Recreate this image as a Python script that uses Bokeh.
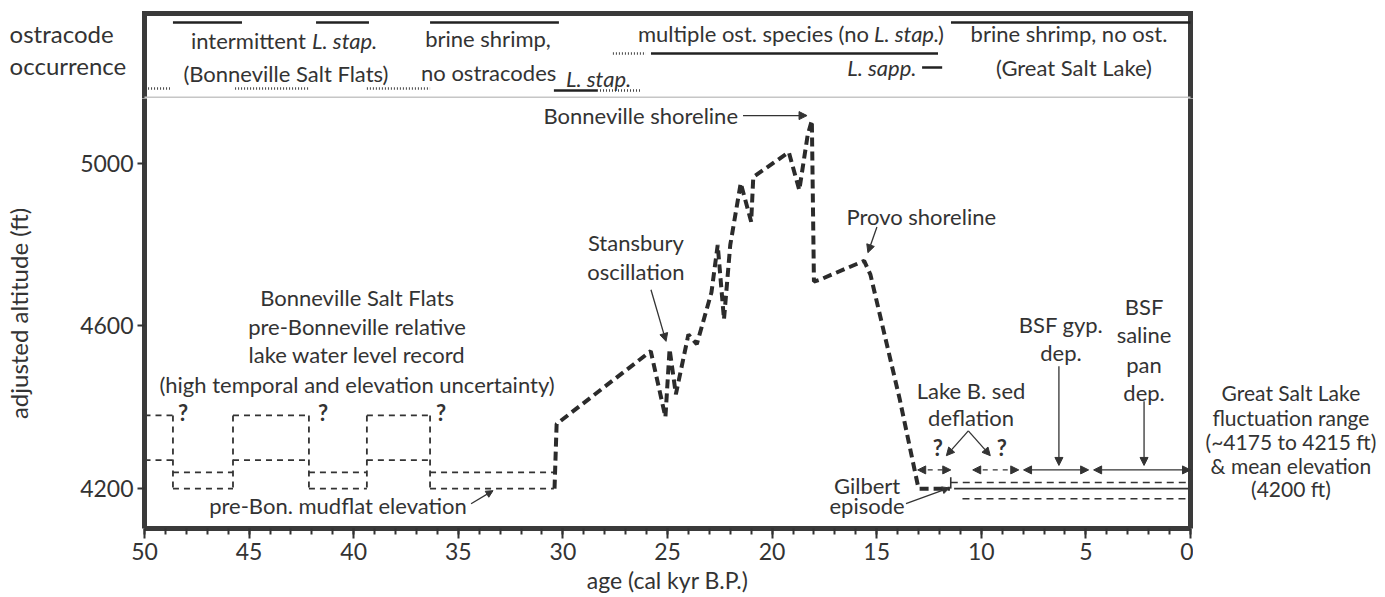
from bokeh.plotting import figure
from bokeh.models import (Range1d, LinearAxis, FixedTicker, SingleIntervalTicker,
                          Label, Arrow, NormalHead, ColumnDataSource)
from bokeh.layouts import column, row
from bokeh.embed import file_html
from bokeh.resources import INLINE

FONT = "Lato"
INK = "#333333"
FRAME = "#3a3a3a"

# ---------------- data ----------------
# Lake Bonneville hydrograph (age in cal kyr B.P., adjusted altitude in ft)
lake_age = [30.4, 30.3, 25.8, 25.1, 24.9, 24.6, 24.0, 23.6, 22.9, 22.6, 22.3, 22.0,
            21.5, 21.0, 20.9, 19.2, 18.7, 18.3, 18.1, 18.0, 17.7, 15.6, 15.3, 13.9,
            13.0, 11.5]
lake_alt = [4200, 4359, 4538, 4376, 4543, 4432, 4579, 4555, 4682, 4799, 4616, 4799,
            4951, 4856, 4966, 5027, 4934, 5069, 5105, 4709, 4714, 4760, 4726, 4420,
            4200, 4200]

# pre-Bonneville relative lake level record (Bonneville Salt Flats)
bsf_high_start = [50.0, 45.77, 39.37]
bsf_high_end = [48.64, 42.14, 36.35]
bsf_low_start = [48.64, 42.14, 36.35]
bsf_low_end = [45.77, 39.37, 30.43]
bsf_high_upper = 4380
bsf_high_lower = 4270
mudflat_upper = 4240
mudflat_lower = 4200

# Gilbert episode and Great Salt Lake fluctuation range
gilbert_age = 11.46
gilbert_alt = [4200, 4228]
gsl_start = [11.46, 11.3, 10.9]
gsl_level = [4215, 4200, 4175]
gsl_kind = ["max", "mean", "min"]

# post-Bonneville intervals
dep_name = ["deflation a", "deflation b", "BSF gyp. dep.", "BSF saline pan dep."]
dep_start = [13.04, 10.41, 7.98, 4.63]
dep_end = [11.46, 8.21, 4.87, 0.0]
dep_certain = [False, False, True, True]

# ostracode occurrence
occ_group = ["intermittent L. stap.", "intermittent L. stap.", "brine shrimp, no ostracodes",
             "brine shrimp, no ost.", "BSF uncertain", "BSF uncertain", "BSF uncertain",
             "L. stap.", "L. stap.", "multiple ost. species", "multiple ost. species", "L. sapp."]
occ_start = [48.64, 41.80, 36.35, 11.45, 49.83, 45.67, 39.37, 30.43, 28.37, 27.61, 25.79, 12.83]
occ_end = [45.34, 39.27, 30.19, 0.0, 48.78, 42.14, 36.35, 28.37, 26.22, 26.03, 12.07, 11.87]
occ_certain = [True, True, True, True, False, False, False, True, False, False, True, True]

x_ticks_interval = 5
y_ticks = [4200, 4600, 5000]

# ---------------- layout constants ----------------
AGE_OLD, AGE_YOUNG = 50, 0
FW = 1046                      # frame width in px
PPU = FW / (AGE_OLD - AGE_YOUNG)
LEFT = 144
TOTAL_W = 1383
MAIN_W = LEFT + FW + 3
TOP_H = 98
MAIN_H = 498
Y0, Y1 = 4102, 5159            # main y range
MAIN_FRAME_H = 432
PPF = MAIN_FRAME_H / (Y1 - Y0)


def lab(fig, x, y, text, size=22, align="center", style="normal", color=INK):
    fig.add_layout(Label(x=x, y=y, text=text, text_font=FONT, text_font_size=f"{size}px",
                         text_align=align, text_baseline="middle", text_color=color,
                         text_font_style=style))


def arrow(fig, x0, y0, x1, y1, size=8, both=False, dash="solid", width=1.3):
    head = NormalHead(size=size, fill_color=INK, line_color=INK, line_width=1)
    start = NormalHead(size=size, fill_color=INK, line_color=INK, line_width=1) if both else None
    fig.add_layout(Arrow(x_start=x0, y_start=y0, x_end=x1, y_end=y1, end=head, start=start,
                         line_color=INK, line_width=width, line_dash=dash))


def bare(fig):
    fig.outline_line_color = None
    for g in fig.grid:
        g.visible = False


# ---- top panel: ostracode occurrence (frame spans full canvas) ----
pt = figure(width=TOTAL_W, height=TOP_H,
            x_range=Range1d(AGE_OLD + LEFT / PPU, AGE_YOUNG - (TOTAL_W - LEFT - FW) / PPU),
            y_range=Range1d(0, TOP_H),
            output_backend="svg", toolbar_location=None,
            x_axis_location=None, y_axis_location=None, min_border=0)
bare(pt)
# panel frame
pt.line([AGE_OLD, AGE_OLD, AGE_YOUNG, AGE_YOUNG], [0, 85, 85, 0], line_width=5,
        line_color=FRAME, line_join="miter")
pt.line([AGE_OLD, AGE_YOUNG], [1, 1], line_width=2, line_color="#c6c6c6")

row_of = {"intermittent L. stap.": 76, "brine shrimp, no ostracodes": 76, "brine shrimp, no ost.": 76,
          "BSF uncertain": 10, "L. stap.": 8, "multiple ost. species": 45, "L. sapp.": 31}
rows = [row_of[g] for g in occ_group]
solid = ColumnDataSource(dict(
    x0=[s for s, c in zip(occ_start, occ_certain) if c],
    x1=[e for e, c in zip(occ_end, occ_certain) if c],
    y=[r for r, c in zip(rows, occ_certain) if c]))
dotted = ColumnDataSource(dict(
    x0=[s for s, c in zip(occ_start, occ_certain) if not c],
    x1=[e for e, c in zip(occ_end, occ_certain) if not c],
    y=[r for r, c in zip(rows, occ_certain) if not c]))
pt.segment(x0="x0", y0="y", x1="x1", y1="y", source=solid, line_width=2.6, line_color="#222222")
pt.segment(x0="x0", y0="y", x1="x1", y1="y", source=dotted, line_width=2.4,
           line_color="#444444", line_dash="1 2")

lab(pt, 56.45, 65, "ostracode", size=24, align="left")
lab(pt, 56.45, 33, "occurrence", size=24, align="left")
lab(pt, 47.78, 58, "intermittent", align="left")
lab(pt, 41.99, 58, "L. stap.", align="left", style="italic")
lab(pt, 43.24, 25, "(Bonneville Salt Flats)")
lab(pt, 33.58, 60, "brine shrimp,")
lab(pt, 33.55, 26, "no ostracodes")
lab(pt, 29.85, 20, "L. stap.", align="left", style="italic")
lab(pt, 26.41, 65, "multiple ost. species (no", align="left")
lab(pt, 15.13, 65, "L. stap.", align="left", style="italic")
lab(pt, 12.07, 65, ")", align="left")
lab(pt, 13.1, 31, "L. sapp.", align="right", style="italic")
lab(pt, 5.81, 65, "brine shrimp, no ost.")
lab(pt, 5.57, 31, "(Great Salt Lake)")

# ---- main panel ----
p = figure(width=MAIN_W, height=MAIN_H, x_range=Range1d(AGE_OLD, AGE_YOUNG),
           y_range=Range1d(Y0, Y1), output_backend="svg", toolbar_location=None,
           min_border_left=LEFT, min_border_right=3, min_border_top=0,
           min_border_bottom=MAIN_H - MAIN_FRAME_H)
bare(p)
p.add_layout(LinearAxis(ticker=FixedTicker(ticks=[]), axis_line_width=5, axis_line_color=FRAME,
                        major_tick_line_color=None, minor_tick_line_color=None,
                        major_tick_out=0, major_tick_in=0, minor_tick_out=0, minor_tick_in=0,
                        major_label_standoff=0, major_label_text_font_size="0px"), "right")

xa = p.below[0]
xa.ticker = SingleIntervalTicker(interval=x_ticks_interval, num_minor_ticks=5)
xa.axis_label = "age (cal kyr B.P.)"
xa.axis_line_width = 5
xa.axis_line_color = FRAME
xa.major_tick_out, xa.major_tick_in = 10, 0
xa.minor_tick_out, xa.minor_tick_in = 6, 0
xa.major_tick_line_width = 2
xa.minor_tick_line_width = 2
xa.major_tick_line_color = INK
xa.minor_tick_line_color = INK
xa.major_label_text_font = FONT
xa.major_label_text_font_size = "23px"
xa.major_label_text_color = INK
xa.major_label_standoff = 4
xa.axis_label_text_font = FONT
xa.axis_label_text_font_size = "23px"
xa.axis_label_text_font_style = "normal"
xa.axis_label_text_color = INK
xa.axis_label_standoff = 3

ya = p.left[0]
ya.ticker = FixedTicker(ticks=y_ticks)
ya.axis_label = "adjusted altitude (ft)"
ya.axis_line_width = 5
ya.axis_line_color = FRAME
ya.major_tick_out, ya.major_tick_in = 7, 0
ya.major_tick_line_width = 2
ya.major_tick_line_color = INK
ya.minor_tick_line_color = None
ya.major_label_text_font = FONT
ya.major_label_text_font_size = "23px"
ya.major_label_text_color = INK
ya.major_label_standoff = 4
ya.axis_label_text_font = FONT
ya.axis_label_text_font_size = "24px"
ya.axis_label_text_font_style = "normal"
ya.axis_label_text_color = INK
ya.axis_label_standoff = 44

# pre-Bonneville boxes
bx, by = [], []
for s, e in zip(bsf_high_start, bsf_high_end):
    bx += [[s, e], [s, e], [e, e]]
    by += [[bsf_high_upper] * 2, [bsf_high_lower] * 2, [bsf_high_upper, mudflat_lower]]
    if s < AGE_OLD:
        bx.append([s, s])
        by.append([bsf_high_upper, mudflat_lower])
for s, e in zip(bsf_low_start, bsf_low_end):
    bx += [[s, e], [s, e]]
    by += [[mudflat_upper] * 2, [mudflat_lower] * 2]
p.multi_line(bx, by, line_color=INK, line_width=1.8, line_dash="6 5")

# Great Salt Lake range and Gilbert episode
for s, lev, k in zip(gsl_start, gsl_level, gsl_kind):
    p.line([s, AGE_YOUNG], [lev, lev], line_color=INK, line_width=1.6,
           line_dash="solid" if k == "mean" else "7 5")
p.line([gilbert_age, gilbert_age], gilbert_alt, line_color=INK, line_width=1.6)

# main hydrograph
p.line(lake_age, lake_alt, line_color="#2b2b2b", line_width=4, line_dash="9 5")

# interval arrows
for s, e, c in zip(dep_start, dep_end, dep_certain):
    arrow(p, s, 4246, e, 4246, size=8, both=True, dash="solid" if c else "5 5")

# annotations
lab(p, 21.63, 5117, "Bonneville shoreline", align="right")
arrow(p, 21.39, 5117, 18.33, 5117)
lab(p, 26.51, 4804, "Stansbury")
lab(p, 26.51, 4733, "oscillation")
arrow(p, 25.79, 4689, 25.07, 4562)
lab(p, 12.87, 4868, "Provo shoreline")
arrow(p, 14.99, 4843, 15.42, 4780)
for t, y in zip(["Bonneville Salt Flats", "pre-Bonneville relative",
                 "lake water level record", "(high temporal and elevation uncertainty)"],
                [4670, 4599, 4530, 4457]):
    lab(p, 39.84, y, t)
for a in [48.16, 41.47, 35.83]:
    lab(p, a, 4388, "?", style="bold")
lab(p, 40.75, 4158, "pre-Bon. mudflat elevation")
arrow(p, 34.39, 4163, 33.34, 4195, size=7)
lab(p, 10.49, 4440, "Lake B. sed")
lab(p, 10.49, 4374, "deflation")
lab(p, 12.08, 4300, "?", style="bold")
lab(p, 9.02, 4300, "?", style="bold")
arrow(p, 10.62, 4342, 11.67, 4281)
arrow(p, 10.62, 4342, 9.57, 4281)
lab(p, 15.46, 4207, "Gilbert")
lab(p, 15.46, 4158, "episode")
arrow(p, 13.6, 4163, 11.53, 4202, size=7)
lab(p, 6.19, 4604, "BSF gyp.")
lab(p, 6.19, 4535, "dep.")
arrow(p, 6.29, 4501, 6.29, 4257)
for t, y in zip(["BSF", "saline", "pan", "dep."], [4648, 4579, 4506, 4437]):
    lab(p, 2.22, y, t)
arrow(p, 2.22, 4415, 2.22, 4257)

# ---- right margin panel: Great Salt Lake note ----
RW = TOTAL_W - MAIN_W
x_left_edge = AGE_YOUNG - 3 / PPU
pr = figure(width=RW, height=MAIN_H,
            x_range=Range1d(x_left_edge, x_left_edge - RW / PPU),
            y_range=Range1d(Y0 - (MAIN_H - MAIN_FRAME_H) / PPF, Y1),
            output_backend="svg", toolbar_location=None,
            x_axis_location=None, y_axis_location=None, min_border=0)
bare(pr)
for t, y in zip(["Great Salt Lake", "fluctuation range", "(~4175 to 4215 ft)",
                 "& mean elevation", "(4200 ft)"], [4327, 4256, 4188, 4119, 4053]):
    lab(pr, -4.8, y, t, size=21)

layout = column(pt, row(p, pr, spacing=0), spacing=0)
open("out.html", "w").write(file_html(layout, INLINE))
